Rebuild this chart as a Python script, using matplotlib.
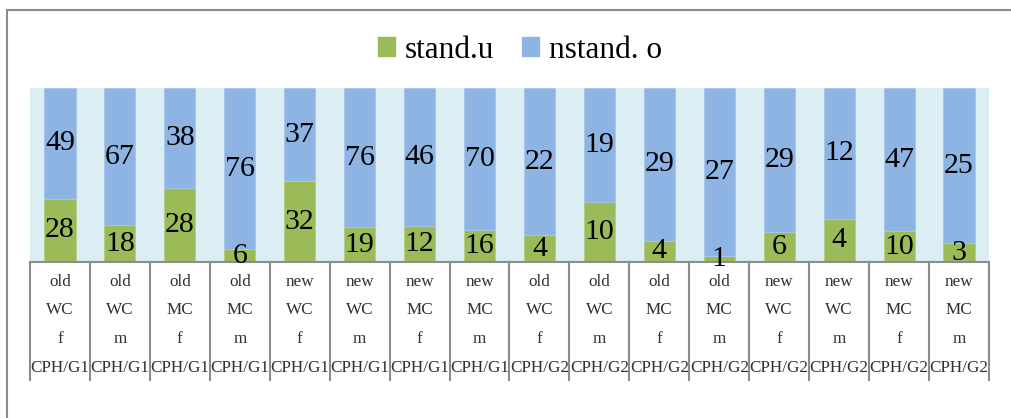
import numpy as np
import matplotlib.pyplot as plt
from matplotlib.transforms import blended_transform_factory
from matplotlib.lines import Line2D
from matplotlib.patches import Patch

plt.rcParams['font.family'] = ['Liberation Serif', 'DejaVu Serif']

# data
stand_u = [28, 18, 28, 6, 32, 19, 12, 16, 4, 10, 4, 1, 6, 4, 10, 3]
nstand_o = [49, 67, 38, 76, 37, 76, 46, 70, 22, 19, 29, 27, 29, 12, 47, 25]
age = ['old'] * 4 + ['new'] * 4 + ['old'] * 4 + ['new'] * 4
kind = ['WC', 'WC', 'MC', 'MC'] * 4
sex = ['f', 'm'] * 8
site = ['CPH/G1'] * 8 + ['CPH/G2'] * 8

W, H = 1012, 418
green = '#9BBB59'
blue = '#8EB4E3'
grid_col = '#8C8C8C'

fig = plt.figure(figsize=(W / 100, H / 100), dpi=100)
ax = fig.add_axes([30 / W, 1 - 262 / H, 959 / W, 174 / H])
ax.set_facecolor('#DAEEF3')

s = np.array(stand_u, float)
n = np.array(nstand_o, float)
tot = s + n
sp = s / tot
np_ = n / tot
x = np.arange(len(s))

ax.bar(x, sp, width=0.52, color=green, edgecolor='#B5CF85', linewidth=0.6)
ax.bar(x, np_, bottom=sp, width=0.52, color=blue, edgecolor='#A9C6EA', linewidth=0.6)

for i in range(len(s)):
    ax.text(x[i], sp[i] / 2, str(stand_u[i]), ha='center', va='center',
            fontsize=21.5, clip_on=False)
    ax.text(x[i], sp[i] + np_[i] / 2, str(nstand_o[i]), ha='center', va='center',
            fontsize=21.5)

ax.set_xlim(-0.5, len(s) - 0.5)
ax.set_ylim(0, 1)
ax.set_xticks([])
ax.set_yticks([])
for sp_name in ['top', 'left', 'right']:
    ax.spines[sp_name].set_visible(False)
ax.spines['bottom'].set_color(grid_col)
ax.spines['bottom'].set_linewidth(1.5)

# category table below the axis
tr = blended_transform_factory(ax.transData, fig.transFigure)
y_top = 1 - 262 / H
y_bot = 1 - 380 / H
for k in range(len(s) + 1):
    ax.plot([k - 0.5, k - 0.5], [y_top, y_bot], color=grid_col, lw=1.5,
            transform=tr, clip_on=False)

rows = [(age, 282), (kind, 310), (sex, 339), (site, 368)]
for labels, ypix in rows:
    for i, lab in enumerate(labels):
        ax.text(x[i], 1 - ypix / H, lab, transform=tr, ha='center', va='center',
                fontsize=12.3, color='#303030')

# outer chart border (left and top only visible)
fig.add_artist(Line2D([7 / W, 7 / W], [1 - 10 / H, 0], color='#8C8C8C', lw=1.5))
fig.add_artist(Line2D([7 / W, 1], [1 - 10 / H, 1 - 10 / H], color='#8C8C8C', lw=1.5))

handles = [Patch(color=green, label='stand.u'), Patch(color=blue, label='nstand. o')]
fig.legend(handles=handles, loc='center', bbox_to_anchor=(520 / W, 1 - 50 / H),
           ncol=2, frameon=False, fontsize=22.5, handlelength=0.55, handleheight=0.55,
           handletextpad=0.3, columnspacing=0.9)

fig.savefig('out.png', dpi=100)
